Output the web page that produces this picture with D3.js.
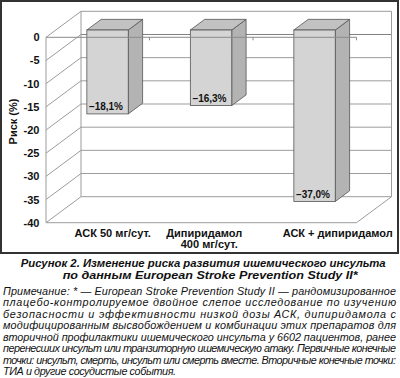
<!DOCTYPE html>
<html><head><meta charset="utf-8">
<script src="https://cdn.jsdelivr.net/npm/d3@7"></script>
<style>
html,body{margin:0;padding:0;background:#fff;}
svg{display:block;}
</style></head>
<body>
<svg id="c" width="400" height="378"></svg>
<script>
// ---- data ----
const categories = ["АСК 50 мг/сут.", "Дипиридамол\n400 мг/сут.", "АСК + дипиридамол"];
const values = [-18.1, -16.3, -37.0];
const yTicks = [0, -5, -10, -15, -20, -25, -30, -35, -40];
const yAxisTitle = "Риск (%)";
const captionLines = ["Рисунок 2. Изменение риска развития ишемического инсульта",
                      "по данным European Stroke Prevention Study II*"];
const noteLines = [
 "Примечание: * — European Stroke Prevention Study II — рандомизированное",
 "плацебо-контролируемое двойное слепое исследование по изучению",
 "безопасности и эффективности низкой дозы АСК, дипиридамола с",
 "модифицированным высвобождением и комбинации этих препаратов для",
 "вторичной профилактики ишемического инсульта у 6602 пациентов, ранее",
 "перенесших инсульт или транзиторную ишемическую атаку. Первичные конечные",
 "точки: инсульт, смерть, инсульт или смерть вместе. Вторичные конечные точки:",
 "ТИА и другие сосудистые события."
];

// ---- layout ----
const FX0 = 46, FX1 = 356.5, DX = 35, DY = -26;
const D0 = 0.28, D1 = 0.69;
const svg = d3.select("#c");
const FONT = "'Liberation Sans', Arial, Helvetica, sans-serif";

const y = d3.scaleLinear().domain([-40, 0]).range([222.7, 37.3]);
const x = d3.scaleBand().domain(categories).range([FX0, FX1]).paddingInner(0.6).paddingOuter(0.3);
const step = x.step();

// frame
svg.append("rect").attr("x", 1).attr("y", 1).attr("width", 397).attr("height", 252)
  .attr("fill", "#fff").attr("stroke", "#333").attr("stroke-width", 2);

const grid = "#9c9c9c";
const g = svg.append("g");
yTicks.forEach(v => {
  g.append("line").attr("x1", FX0 + DX).attr("x2", FX1 + DX)
    .attr("y1", y(v) + DY).attr("y2", y(v) + DY)
    .attr("stroke", v === -5 ? "#808080" : grid).attr("stroke-width", 1);
  g.append("line").attr("x1", FX0).attr("x2", FX0 + DX)
    .attr("y1", y(v)).attr("y2", y(v) + DY)
    .attr("stroke", grid).attr("stroke-width", 1);
});
g.append("line").attr("x1", FX0 + DX).attr("x2", FX0 + DX).attr("y1", y(0) + DY).attr("y2", y(-40) + DY).attr("stroke", grid);
g.append("line").attr("x1", FX1 + DX).attr("x2", FX1 + DX).attr("y1", y(0) + DY).attr("y2", y(-40) + DY).attr("stroke", grid);
g.append("line").attr("x1", FX0).attr("x2", FX0).attr("y1", y(0)).attr("y2", y(-40)).attr("stroke", grid);
g.append("line").attr("x1", FX0).attr("x2", FX1).attr("y1", y(-40)).attr("y2", y(-40)).attr("stroke", grid);
g.append("line").attr("x1", FX1).attr("x2", FX1 + DX).attr("y1", y(-40)).attr("y2", y(-40) + DY).attr("stroke", grid);

// y tick labels
svg.append("g").selectAll("text").data(yTicks).join("text")
  .attr("x", 39.5).attr("y", d => y(d) + 4)
  .attr("text-anchor", "end")
  .attr("font-family", FONT).attr("font-weight", "bold").attr("font-size", 11)
  .attr("fill", "#111")
  .text(d => d === 0 ? "0" : "-" + Math.abs(d));

// y axis title
svg.append("text").attr("transform", "translate(16.5,121.5) rotate(-90)")
  .attr("text-anchor", "middle")
  .attr("font-family", FONT).attr("font-weight", "bold").attr("font-size", 11)
  .attr("fill", "#111").text(yAxisTitle);

// bars
const dd = D1 - D0;
const bars = svg.append("g");
categories.forEach((c, i) => {
  const v = values[i];
  const x0 = x(c) + DX * D0, w = x.bandwidth();
  const yt = y(0) + DY * D0, yb = y(v) + DY * D0;
  const ox = DX * dd, oy = DY * dd;
  bars.append("polygon")
    .attr("points", [[x0 + w, yt], [x0 + w + ox, yt + oy], [x0 + w + ox, yb + oy], [x0 + w, yb]].map(p => p.join(",")).join(" "))
    .attr("fill", "#b3b3b3").attr("stroke", "#555").attr("stroke-width", 0.8).attr("stroke-linejoin", "round");
  bars.append("polygon")
    .attr("points", [[x0, yt], [x0 + w, yt], [x0 + w + ox, yt + oy], [x0 + ox, yt + oy]].map(p => p.join(",")).join(" "))
    .attr("fill", "#c2c2c2").attr("stroke", "#555").attr("stroke-width", 0.8).attr("stroke-linejoin", "round");
  bars.append("rect").attr("x", x0).attr("y", yt).attr("width", w).attr("height", yb - yt)
    .attr("fill", "#d4d4d4").attr("stroke", "#555").attr("stroke-width", 0.8);
});

// category axis at 0 (drawn over bars)
const ax = svg.append("g");
ax.append("line").attr("x1", FX0).attr("x2", FX1).attr("y1", y(0)).attr("y2", y(0))
  .attr("stroke", "#8a8a8a").attr("stroke-width", 1);
d3.range(1, categories.length + 1).forEach(i => {
  const xx = FX0 + i * step;
  ax.append("line").attr("x1", xx).attr("x2", xx).attr("y1", y(0)).attr("y2", y(0) + 3)
    .attr("stroke", "#8a8a8a").attr("stroke-width", 1);
});

// bar value labels
categories.forEach((c, i) => {
  const v = values[i];
  const x0 = x(c) + DX * D0, w = x.bandwidth();
  const yb = y(v) + DY * D0;
  svg.append("text").attr("x", x0 + w / 2 - 1.5).attr("y", yb - 3.5)
    .attr("text-anchor", "middle")
    .attr("font-family", FONT).attr("font-weight", "bold").attr("font-size", 10)
    .attr("fill", "#111")
    .text("–" + Math.abs(v).toFixed(1).replace(".", ",") + "%");
});

// category labels
const labelShift = [15, 3, 33];
categories.forEach((c, i) => {
  const cx = x(c) + x.bandwidth() / 2 + labelShift[i];
  const t = svg.append("text").attr("text-anchor", "middle")
    .attr("font-family", FONT).attr("font-weight", "bold").attr("font-size", 11)
    .attr("fill", "#111");
  c.split("\n").forEach((ln, k) => {
    t.append("tspan").attr("x", cx + (k ? 5 : 0)).attr("y", 236.5 + k * 11.5).text(ln);
  });
});

// caption
const capX = [20.7, 62.7], capW = [365, 295], capY = [266.5, 279];
captionLines.forEach((ln, i) => {
  svg.append("text").attr("x", capX[i]).attr("y", capY[i])
    .attr("textLength", capW[i]).attr("lengthAdjust", "spacingAndGlyphs")
    .attr("font-family", FONT).attr("font-weight", "bold").attr("font-style", "italic")
    .attr("font-size", 11.5).attr("fill", "#111").text(ln);
});

// note
noteLines.forEach((ln, i) => {
  const last = i === noteLines.length - 1;
  svg.append("text").attr("x", 3).attr("y", 294.5 + i * 11.55)
    .attr("textLength", last ? 173 : 393).attr("lengthAdjust", "spacing")
    .attr("font-family", FONT).attr("font-style", "italic")
    .attr("font-size", 10.8).attr("fill", "#111").text(ln);
});
</script>
</body></html>
